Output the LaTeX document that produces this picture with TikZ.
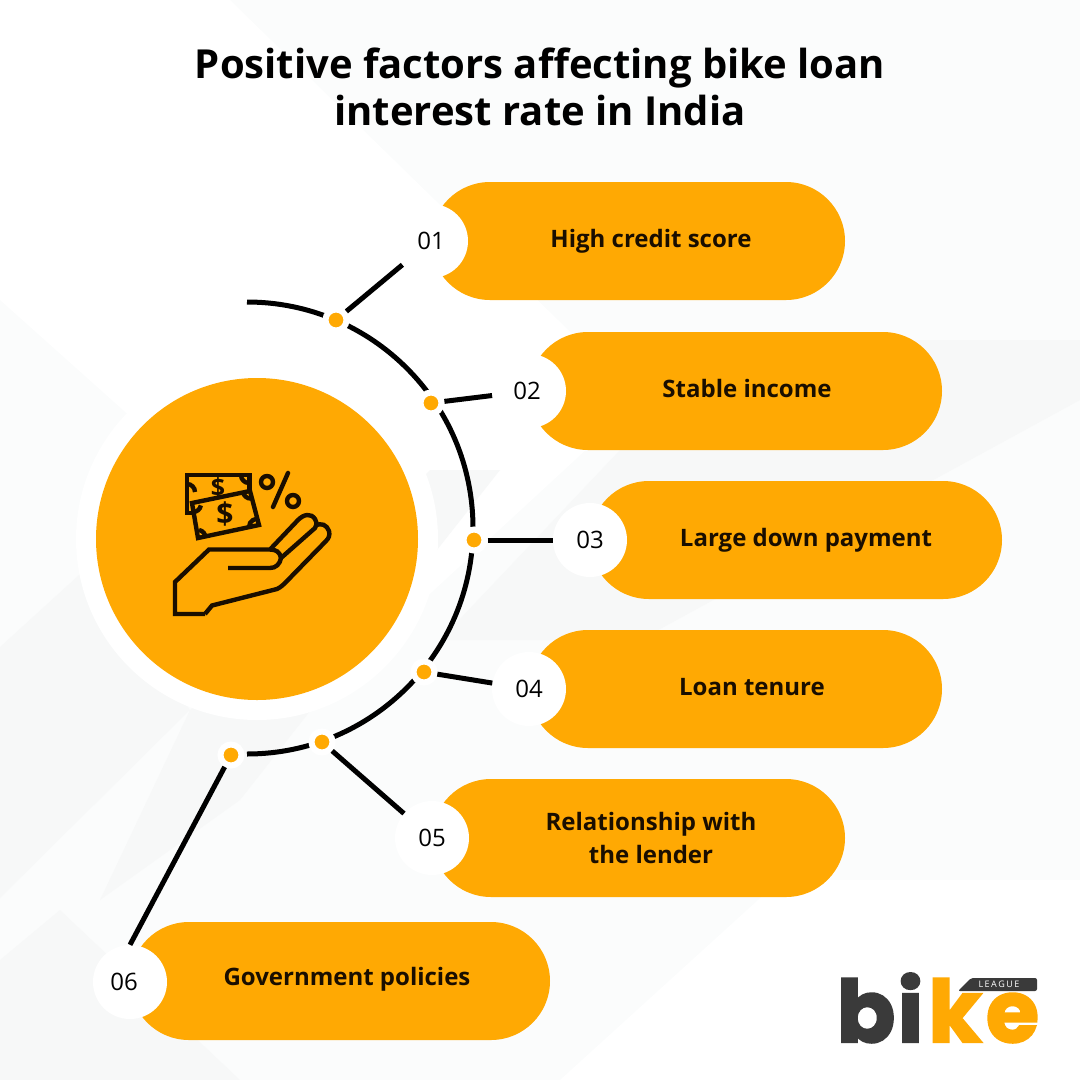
\documentclass[tikz,border=0pt]{standalone}
\usepackage{fontspec}
\setmainfont{Open Sans}
\newfontfamily\logofont[BoldFeatures={FakeBold=2.5}]{Poppins}
\usetikzlibrary{shapes.misc}
\definecolor{loanorange}{HTML}{FFA903}
\definecolor{inkdark}{HTML}{1A0E00}
\definecolor{logodark}{HTML}{3A3A3A}
\definecolor{pagegrey}{HTML}{FBFCFC}
\definecolor{bandgrey}{HTML}{F7F8F8}
\tikzset{
  pillbox/.style={rounded rectangle,fill=loanorange,minimum height=118pt,inner sep=0pt},
  pilltext/.style={font=\fontsize{24}{33}\selectfont\bfseries,align=center,text=inkdark},
  numbox/.style={circle,fill=white,minimum size=74pt,inner sep=0pt,font=\fontsize{24}{28}\selectfont},
  dotbox/.style={circle,fill=loanorange,draw=white,line width=6pt,minimum size=21pt,inner sep=0pt},
  wire/.style={line width=5pt},
  iconline/.style={line width=4.4pt,line join=miter,draw=inkdark},
  logotext/.style={font=\logofont\fontsize{86}{86}\selectfont\bfseries,inner sep=0pt,anchor=base}
}
\begin{document}
\begin{tikzpicture}[x=1pt,y=-1pt]
    \useasboundingbox (0,0) rectangle (1080,1080);
    % background
    \fill[pagegrey] (0,0) rectangle (1080,1080);
    \fill[white] (0,0) -- (230,0) -- (640,400) -- (380,640) -- (0,300) -- cycle;
    \fill[bandgrey] (0,647) -- (90,565) -- (190,710) -- (0,898) -- cycle;
    \fill[bandgrey] (190,710) -- (430,470) -- (500,470) -- (240,800) -- (100,900) -- cycle;
    \fill[bandgrey] (440,640) -- (620,450) -- (760,340) -- (1080,340) -- (1080,400) -- (640,640) -- cycle;
    \fill[bandgrey] (0,960) -- (60,910) -- (240,1080) -- (0,1080) -- cycle;
    \fill[white] (560,1080) -- (780,880) -- (1080,880) -- (1080,1080) -- cycle;
    % title
    \node[font=\fontsize{40}{47}\selectfont\bfseries,align=center] (title) at (540,87)
        {Positive factors affecting bike loan\\interest rate in India};
    % centre
    \fill[white] (257,539) circle (181);
    \node[circle,fill=loanorange,minimum size=322pt,inner sep=0pt] (hub) at (257,539) {};
    \draw[wire] (247,302) arc[start angle=-90,end angle=90,radius=226];
    % hand icon
    \draw[iconline] (205,614) -- (175,614) -- (175,582) -- (209,549.5) -- (270,549.5) -- (298,520)
        .. controls (304,514) and (311,513) .. (315,519) .. controls (317,523) and (317,526) .. (315,528)
        -- (281,558) .. controls (280,564) and (276,568) .. (270,568) -- (228,568);
    \draw[iconline] (270,549.5) .. controls (276,549.5) and (280,552) .. (281,558);
    \draw[iconline] (315,526) .. controls (321,522) and (327,525) .. (329,531) .. controls (330,535) and (329,538) .. (326,541)
        -- (286,582) .. controls (283,585) and (281,587) .. (277,589) -- (212,605.5) -- (205,614);
    % notes
    \draw[iconline] (249.5,492) -- (249.5,475) -- (187,475) -- (187,513) -- (194,513);
    \node[font=\fontsize{25}{25}\selectfont\bfseries,text=inkdark,inner sep=0pt] (backsign) at (218,488) {\$};
    \draw[iconline] (187,484) arc[start angle=-90,end angle=0,radius=8];
    \draw[iconline] (241,475) arc[start angle=180,end angle=90,radius=8];
    \draw[iconline,fill=loanorange] (192,503) -- (250,491) -- (259,525) -- (198,538) -- cycle;
    \node[font=\fontsize{30}{30}\selectfont\bfseries,text=inkdark,inner sep=0pt] (frontsign) at (225,514) {\$};
    \draw[iconline] (193,512) arc[start angle=90,end angle=10,radius=8];
    \draw[iconline] (243,492) arc[start angle=170,end angle=90,radius=8];
    \draw[iconline] (199,530) arc[start angle=-80,end angle=0,radius=8];
    \draw[iconline] (249,527) arc[start angle=180,end angle=280,radius=8];
    % percent
    \draw[iconline] (267,482) circle (6);
    \draw[iconline] (293,501) circle (6);
    \draw[iconline,line cap=round] (288,473) -- (273,507);
    % pills
    \node[pillbox,minimum width=414pt] (pill1) at (638,241) {};
    \node[pillbox,minimum width=413pt] (pill2) at (735.5,391) {};
    \node[pillbox,minimum width=412pt] (pill3) at (796,540) {};
    \node[pillbox,minimum width=413pt] (pill4) at (735.5,689) {};
    \node[pillbox,minimum width=413pt] (pill5) at (638.5,838) {};
    \node[pillbox,minimum width=420pt] (pill6) at (340,981) {};
    \node[pilltext,anchor=base] (text1) at (651,247.5) {High credit score};
    \node[pilltext,anchor=base] (text2) at (747,397.5) {Stable income};
    \node[pilltext,anchor=base] (text3) at (806,546.5) {Large down payment};
    \node[pilltext,anchor=base] (text4) at (752,695) {Loan tenure};
    \node[pilltext] (text5) at (651,838) {Relationship with\\the lender};
    \node[pilltext,anchor=base] (text6) at (347,985.5) {Government policies};
    % numbers
    \node[numbox] (num1) at (431,241) {01};
    \node[numbox] (num2) at (529,391) {\kern-4pt 02};
    \node[numbox] (num3) at (590,540) {03};
    \node[numbox] (num4) at (529,689) {04};
    \node[numbox] (num5) at (432,838) {05};
    \node[numbox] (num6) at (130,982) {\kern-12pt 06};
    % dots
    \node[dotbox] (dot1) at (336,320) {};
    \node[dotbox] (dot2) at (431,403) {};
    \node[dotbox] (dot3) at (474,540) {};
    \node[dotbox] (dot4) at (424,672) {};
    \node[dotbox] (dot5) at (322,742) {};
    \node[dotbox] (dot6) at (231,755) {};
    \draw[wire] (dot1) -- (num1);
    \draw[wire] (dot2) -- (num2);
    \draw[wire] (dot3) -- (num3);
    \draw[wire] (dot4) -- (num4);
    \draw[wire] (dot5) -- (num5);
    \draw[wire] (dot6) -- (num6.north);
    % logo
    \node[logotext,text=logodark] (logob) at (866,1042) {b};
    \node[logotext,text=logodark] (logoi) at (910.5,1042) {i};
    \node[logotext,text=loanorange] (logok) at (955,1042) {k};
    \node[logotext,text=loanorange] (logoe) at (1012.5,1042) {e};
    \fill[logodark,rounded corners=2pt] (958,991) -- (971,978) -- (1037,978) -- (1037,991) -- cycle;
    \node[font=\fontsize{9}{9}\selectfont,text=white,inner sep=0pt] (league) at (999,984.5) {L\,E\,A\,G\,U\,E};
\end{tikzpicture}
\end{document}
